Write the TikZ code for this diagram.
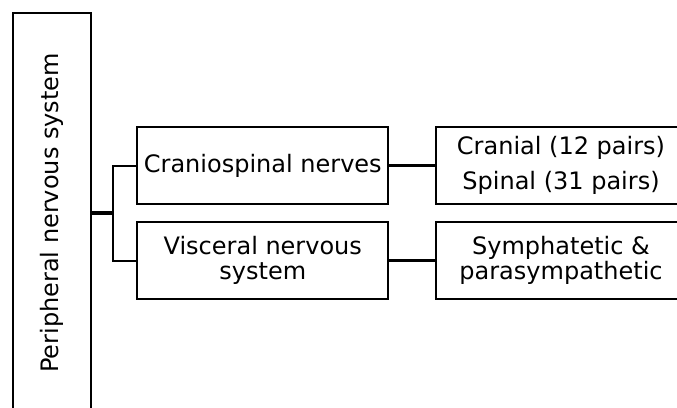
\documentclass[tikz,border=0pt]{standalone}
\usepackage{fontspec}
\setmainfont{DejaVu Sans}
\begin{document}
\begin{tikzpicture}[x=1pt,y=-1pt,
  box/.style={draw, line width=2pt, inner sep=0pt, align=center, font=\fontsize{24}{25}\selectfont},
  thinconn/.style={line width=2pt},
  thickconn/.style={line width=3.4pt}]
\clip (0,0) rectangle (677,407);
\useasboundingbox (0,0) rectangle (677,407);
\node[box, rotate=90, minimum width=400pt, minimum height=77.5pt] (L) at (51.75,213) {Peripheral nervous system};
\node[box, minimum width=251pt, minimum height=77.5pt] (C) at (262.8,165.5) {Craniospinal nerves};
\node[box, minimum width=251pt, minimum height=77.5pt] (V) at (262.8,260.5) {Visceral nervous\\system};
\node[box, minimum width=250.5pt, minimum height=77.5pt, font=\fontsize{24}{35}\selectfont] (R1) at (561,165.5) {Cranial (12 pairs)\\Spinal (31 pairs)};
\node[box, minimum width=250.5pt, minimum height=77.5pt] (R2) at (561,260.5) {Symphatetic \&\\parasympathetic};
\coordinate (J) at (113,213);
\draw[thickconn] (L.south) -- (J);
\draw[thinconn] (C.west) -| (J) |- (V.west);
\draw[thickconn] (C.east) -- (R1.west);
\draw[thickconn] (V.east) -- (R2.west);
\end{tikzpicture}
\end{document}
